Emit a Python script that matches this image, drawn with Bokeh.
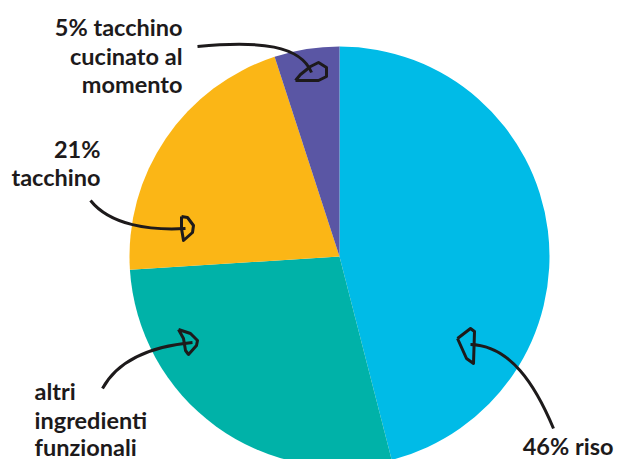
import math
from bokeh.plotting import figure
from bokeh.models import Range1d
from bokeh.core.properties import value
from bokeh.embed import file_html
from bokeh.resources import INLINE

# data
categories = ["46% riso", "altri ingredienti funzionali", "21% tacchino", "5% tacchino cucinato al momento"]
shares = [46, 28, 21, 5]
colors = ["#00BBE7", "#00B2A8", "#FBB616", "#5A56A4"]

W, H = 623, 459
p = figure(width=W, height=H, output_backend="svg", toolbar_location=None,
           x_range=Range1d(0, W), y_range=Range1d(0, H),
           min_border=0)
p.axis.visible = False
p.grid.visible = False
p.outline_line_color = None
p.background_fill_color = "white"

def Y(y):
    return 459 - y

cx, cy, r = 339, Y(256), 210
total = sum(shares)
cum = 0
for s, c in zip(shares, colors):
    a0 = math.pi / 2 - 2 * math.pi * cum / total
    cum += s
    a1 = math.pi / 2 - 2 * math.pi * cum / total
    p.wedge(x=cx, y=cy, radius=r, start_angle=a0, end_angle=a1, direction="clock",
            fill_color=c, line_color=None)

ink = "#1d1a1b"
font = value("Lato")

def label(lines, x, baselines, align):
    p.text(x=[x] * len(lines), y=[Y(b - 7) for b in baselines], text=lines,
           text_font=font, text_font_style="bold", text_font_size="23.5px",
           text_color=ink, text_align=align, text_baseline="alphabetic")

label(["5% tacchino", "cucinato al", "momento"], 182, [33, 62, 90], "right")
label(["21%", "tacchino"], 100, [155, 183], "right")
label(["altri", "ingredienti", "funzionali"], 34, [397, 426, 453], "left")
label(["46% riso"], 613, [452], "right")

def arrow(x0, y0, cx0, cy0, cx1, cy1, x1, y1, head):
    p.bezier(x0=[x0], y0=[Y(y0)], x1=[x1], y1=[Y(y1)], cx0=[cx0], cy0=[Y(cy0)],
             cx1=[cx1], cy1=[Y(cy1)], line_color=ink, line_width=3)
    hx = [h[0] for h in head] + [head[0][0]]
    hy = [Y(h[1]) for h in head] + [Y(head[0][1])]
    p.line(hx, hy, line_color=ink, line_width=3, line_join="round")

arrow(197, 46, 260, 40, 300, 45, 311, 72,
      [(295, 80), (318, 80), (326, 76), (326, 67), (318, 62), (310, 66), (300, 74)])
arrow(90, 200, 110, 225, 150, 230, 185, 228,
      [(181, 216), (187, 217), (193, 225), (192, 232), (183, 240), (181, 228)])
arrow(102, 388, 120, 355, 160, 345, 192, 342,
      [(178, 329), (190, 333), (197, 340), (196, 345), (188, 354), (185, 350), (183, 338)])
arrow(553, 428, 535, 385, 510, 345, 470, 344,
      [(457, 338), (470, 328), (474, 331), (473, 363), (466, 358)])

open("out.html", "w").write(file_html(p, INLINE))
